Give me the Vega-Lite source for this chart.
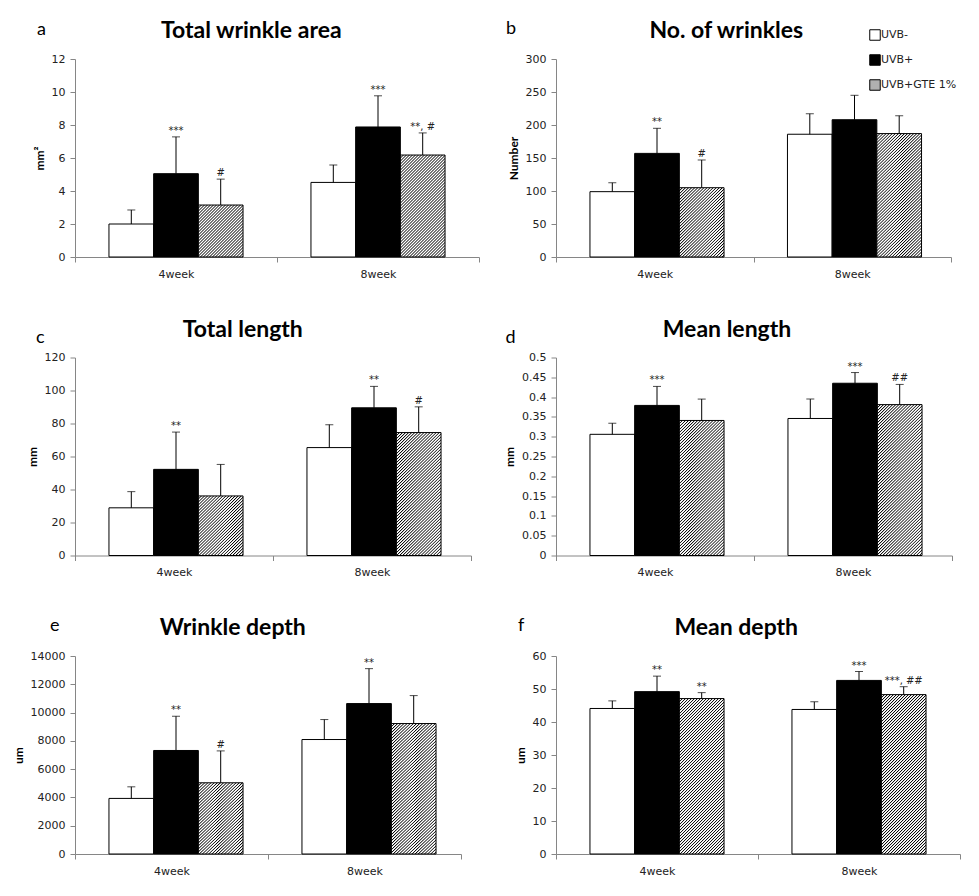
{
  "$schema": "https://vega.github.io/schema/vega-lite/v6.json",
  "background": "#ffffff",
  "padding": {"left": 12, "top": 20, "right": 5, "bottom": 5},
  "columns": 2,
  "spacing": {"row": 39.5, "column": 23},
  "params": [
    {"name": "hatchStops", "value": [
      {"offset": 0, "color": "#000"}, {"offset": 0.005, "color": "#fff"}, {"offset": 0.00875, "color": "#fff"},
      {"offset": 0.0125, "color": "#000"}, {"offset": 0.0175, "color": "#fff"}, {"offset": 0.02125, "color": "#fff"},
      {"offset": 0.025, "color": "#000"}, {"offset": 0.03, "color": "#fff"}, {"offset": 0.03375, "color": "#fff"},
      {"offset": 0.0375, "color": "#000"}, {"offset": 0.0425, "color": "#fff"}, {"offset": 0.04625, "color": "#fff"},
      {"offset": 0.05, "color": "#000"}, {"offset": 0.055, "color": "#fff"}, {"offset": 0.05875, "color": "#fff"},
      {"offset": 0.0625, "color": "#000"}, {"offset": 0.0675, "color": "#fff"}, {"offset": 0.07125, "color": "#fff"},
      {"offset": 0.075, "color": "#000"}, {"offset": 0.08, "color": "#fff"}, {"offset": 0.08375, "color": "#fff"},
      {"offset": 0.0875, "color": "#000"}, {"offset": 0.0925, "color": "#fff"}, {"offset": 0.09625, "color": "#fff"},
      {"offset": 0.1, "color": "#000"}, {"offset": 0.105, "color": "#fff"}, {"offset": 0.10875, "color": "#fff"},
      {"offset": 0.1125, "color": "#000"}, {"offset": 0.1175, "color": "#fff"}, {"offset": 0.12125, "color": "#fff"},
      {"offset": 0.125, "color": "#000"}, {"offset": 0.13, "color": "#fff"}, {"offset": 0.13375, "color": "#fff"},
      {"offset": 0.1375, "color": "#000"}, {"offset": 0.1425, "color": "#fff"}, {"offset": 0.14625, "color": "#fff"},
      {"offset": 0.15, "color": "#000"}, {"offset": 0.155, "color": "#fff"}, {"offset": 0.15875, "color": "#fff"},
      {"offset": 0.1625, "color": "#000"}, {"offset": 0.1675, "color": "#fff"}, {"offset": 0.17125, "color": "#fff"},
      {"offset": 0.175, "color": "#000"}, {"offset": 0.18, "color": "#fff"}, {"offset": 0.18375, "color": "#fff"},
      {"offset": 0.1875, "color": "#000"}, {"offset": 0.1925, "color": "#fff"}, {"offset": 0.19625, "color": "#fff"},
      {"offset": 0.2, "color": "#000"}, {"offset": 0.205, "color": "#fff"}, {"offset": 0.20875, "color": "#fff"},
      {"offset": 0.2125, "color": "#000"}, {"offset": 0.2175, "color": "#fff"}, {"offset": 0.22125, "color": "#fff"},
      {"offset": 0.225, "color": "#000"}, {"offset": 0.23, "color": "#fff"}, {"offset": 0.23375, "color": "#fff"},
      {"offset": 0.2375, "color": "#000"}, {"offset": 0.2425, "color": "#fff"}, {"offset": 0.24625, "color": "#fff"},
      {"offset": 0.25, "color": "#000"}, {"offset": 0.255, "color": "#fff"}, {"offset": 0.25875, "color": "#fff"},
      {"offset": 0.2625, "color": "#000"}, {"offset": 0.2675, "color": "#fff"}, {"offset": 0.27125, "color": "#fff"},
      {"offset": 0.275, "color": "#000"}, {"offset": 0.28, "color": "#fff"}, {"offset": 0.28375, "color": "#fff"},
      {"offset": 0.2875, "color": "#000"}, {"offset": 0.2925, "color": "#fff"}, {"offset": 0.29625, "color": "#fff"},
      {"offset": 0.3, "color": "#000"}, {"offset": 0.305, "color": "#fff"}, {"offset": 0.30875, "color": "#fff"},
      {"offset": 0.3125, "color": "#000"}, {"offset": 0.3175, "color": "#fff"}, {"offset": 0.32125, "color": "#fff"},
      {"offset": 0.325, "color": "#000"}, {"offset": 0.33, "color": "#fff"}, {"offset": 0.33375, "color": "#fff"},
      {"offset": 0.3375, "color": "#000"}, {"offset": 0.3425, "color": "#fff"}, {"offset": 0.34625, "color": "#fff"},
      {"offset": 0.35, "color": "#000"}, {"offset": 0.355, "color": "#fff"}, {"offset": 0.35875, "color": "#fff"},
      {"offset": 0.3625, "color": "#000"}, {"offset": 0.3675, "color": "#fff"}, {"offset": 0.37125, "color": "#fff"},
      {"offset": 0.375, "color": "#000"}, {"offset": 0.38, "color": "#fff"}, {"offset": 0.38375, "color": "#fff"},
      {"offset": 0.3875, "color": "#000"}, {"offset": 0.3925, "color": "#fff"}, {"offset": 0.39625, "color": "#fff"},
      {"offset": 0.4, "color": "#000"}, {"offset": 0.405, "color": "#fff"}, {"offset": 0.40875, "color": "#fff"},
      {"offset": 0.4125, "color": "#000"}, {"offset": 0.4175, "color": "#fff"}, {"offset": 0.42125, "color": "#fff"},
      {"offset": 0.425, "color": "#000"}, {"offset": 0.43, "color": "#fff"}, {"offset": 0.43375, "color": "#fff"},
      {"offset": 0.4375, "color": "#000"}, {"offset": 0.4425, "color": "#fff"}, {"offset": 0.44625, "color": "#fff"},
      {"offset": 0.45, "color": "#000"}, {"offset": 0.455, "color": "#fff"}, {"offset": 0.45875, "color": "#fff"},
      {"offset": 0.4625, "color": "#000"}, {"offset": 0.4675, "color": "#fff"}, {"offset": 0.47125, "color": "#fff"},
      {"offset": 0.475, "color": "#000"}, {"offset": 0.48, "color": "#fff"}, {"offset": 0.48375, "color": "#fff"},
      {"offset": 0.4875, "color": "#000"}, {"offset": 0.4925, "color": "#fff"}, {"offset": 0.49625, "color": "#fff"},
      {"offset": 0.5, "color": "#000"}, {"offset": 0.505, "color": "#fff"}, {"offset": 0.50875, "color": "#fff"},
      {"offset": 0.5125, "color": "#000"}, {"offset": 0.5175, "color": "#fff"}, {"offset": 0.52125, "color": "#fff"},
      {"offset": 0.525, "color": "#000"}, {"offset": 0.53, "color": "#fff"}, {"offset": 0.53375, "color": "#fff"},
      {"offset": 0.5375, "color": "#000"}, {"offset": 0.5425, "color": "#fff"}, {"offset": 0.54625, "color": "#fff"},
      {"offset": 0.55, "color": "#000"}, {"offset": 0.555, "color": "#fff"}, {"offset": 0.55875, "color": "#fff"},
      {"offset": 0.5625, "color": "#000"}, {"offset": 0.5675, "color": "#fff"}, {"offset": 0.57125, "color": "#fff"},
      {"offset": 0.575, "color": "#000"}, {"offset": 0.58, "color": "#fff"}, {"offset": 0.58375, "color": "#fff"},
      {"offset": 0.5875, "color": "#000"}, {"offset": 0.5925, "color": "#fff"}, {"offset": 0.59625, "color": "#fff"},
      {"offset": 0.6, "color": "#000"}, {"offset": 0.605, "color": "#fff"}, {"offset": 0.60875, "color": "#fff"},
      {"offset": 0.6125, "color": "#000"}, {"offset": 0.6175, "color": "#fff"}, {"offset": 0.62125, "color": "#fff"},
      {"offset": 0.625, "color": "#000"}, {"offset": 0.63, "color": "#fff"}, {"offset": 0.63375, "color": "#fff"},
      {"offset": 0.6375, "color": "#000"}, {"offset": 0.6425, "color": "#fff"}, {"offset": 0.64625, "color": "#fff"},
      {"offset": 0.65, "color": "#000"}, {"offset": 0.655, "color": "#fff"}, {"offset": 0.65875, "color": "#fff"},
      {"offset": 0.6625, "color": "#000"}, {"offset": 0.6675, "color": "#fff"}, {"offset": 0.67125, "color": "#fff"},
      {"offset": 0.675, "color": "#000"}, {"offset": 0.68, "color": "#fff"}, {"offset": 0.68375, "color": "#fff"},
      {"offset": 0.6875, "color": "#000"}, {"offset": 0.6925, "color": "#fff"}, {"offset": 0.69625, "color": "#fff"},
      {"offset": 0.7, "color": "#000"}, {"offset": 0.705, "color": "#fff"}, {"offset": 0.70875, "color": "#fff"},
      {"offset": 0.7125, "color": "#000"}, {"offset": 0.7175, "color": "#fff"}, {"offset": 0.72125, "color": "#fff"},
      {"offset": 0.725, "color": "#000"}, {"offset": 0.73, "color": "#fff"}, {"offset": 0.73375, "color": "#fff"},
      {"offset": 0.7375, "color": "#000"}, {"offset": 0.7425, "color": "#fff"}, {"offset": 0.74625, "color": "#fff"},
      {"offset": 0.75, "color": "#000"}, {"offset": 0.755, "color": "#fff"}, {"offset": 0.75875, "color": "#fff"},
      {"offset": 0.7625, "color": "#000"}, {"offset": 0.7675, "color": "#fff"}, {"offset": 0.77125, "color": "#fff"},
      {"offset": 0.775, "color": "#000"}, {"offset": 0.78, "color": "#fff"}, {"offset": 0.78375, "color": "#fff"},
      {"offset": 0.7875, "color": "#000"}, {"offset": 0.7925, "color": "#fff"}, {"offset": 0.79625, "color": "#fff"},
      {"offset": 0.8, "color": "#000"}, {"offset": 0.805, "color": "#fff"}, {"offset": 0.80875, "color": "#fff"},
      {"offset": 0.8125, "color": "#000"}, {"offset": 0.8175, "color": "#fff"}, {"offset": 0.82125, "color": "#fff"},
      {"offset": 0.825, "color": "#000"}, {"offset": 0.83, "color": "#fff"}, {"offset": 0.83375, "color": "#fff"},
      {"offset": 0.8375, "color": "#000"}, {"offset": 0.8425, "color": "#fff"}, {"offset": 0.84625, "color": "#fff"},
      {"offset": 0.85, "color": "#000"}, {"offset": 0.855, "color": "#fff"}, {"offset": 0.85875, "color": "#fff"},
      {"offset": 0.8625, "color": "#000"}, {"offset": 0.8675, "color": "#fff"}, {"offset": 0.87125, "color": "#fff"},
      {"offset": 0.875, "color": "#000"}, {"offset": 0.88, "color": "#fff"}, {"offset": 0.88375, "color": "#fff"},
      {"offset": 0.8875, "color": "#000"}, {"offset": 0.8925, "color": "#fff"}, {"offset": 0.89625, "color": "#fff"},
      {"offset": 0.9, "color": "#000"}, {"offset": 0.905, "color": "#fff"}, {"offset": 0.90875, "color": "#fff"},
      {"offset": 0.9125, "color": "#000"}, {"offset": 0.9175, "color": "#fff"}, {"offset": 0.92125, "color": "#fff"},
      {"offset": 0.925, "color": "#000"}, {"offset": 0.93, "color": "#fff"}, {"offset": 0.93375, "color": "#fff"},
      {"offset": 0.9375, "color": "#000"}, {"offset": 0.9425, "color": "#fff"}, {"offset": 0.94625, "color": "#fff"},
      {"offset": 0.95, "color": "#000"}, {"offset": 0.955, "color": "#fff"}, {"offset": 0.95875, "color": "#fff"},
      {"offset": 0.9625, "color": "#000"}, {"offset": 0.9675, "color": "#fff"}, {"offset": 0.97125, "color": "#fff"},
      {"offset": 0.975, "color": "#000"}, {"offset": 0.98, "color": "#fff"}, {"offset": 0.98375, "color": "#fff"},
      {"offset": 0.9875, "color": "#000"}, {"offset": 0.9925, "color": "#fff"}, {"offset": 1, "color": "#fff"}
    ]},
    {"name": "hatchLegend", "expr": "{gradient: 'linear', x1: 0, y1: 0, x2: 19, y2: 19, stops: hatchStops}"}
  ],
  "datasets": {
    "a": [
      {"week": "4week", "group": "UVB-", "mean": 2.0, "upper": 2.85, "label": ""},
      {"week": "4week", "group": "UVB+", "mean": 5.05, "upper": 7.28, "label": "***"},
      {"week": "4week", "group": "UVB+GTE 1%", "mean": 3.15, "upper": 4.72, "label": "#"},
      {"week": "8week", "group": "UVB-", "mean": 4.52, "upper": 5.58, "label": ""},
      {"week": "8week", "group": "UVB+", "mean": 7.88, "upper": 9.77, "label": "***"},
      {"week": "8week", "group": "UVB+GTE 1%", "mean": 6.18, "upper": 7.52, "label": "**, #"}
    ],
    "b": [
      {"week": "4week", "group": "UVB-", "mean": 99, "upper": 112.5, "label": ""},
      {"week": "4week", "group": "UVB+", "mean": 157, "upper": 195, "label": "**"},
      {"week": "4week", "group": "UVB+GTE 1%", "mean": 105, "upper": 147, "label": "#"},
      {"week": "8week", "group": "UVB-", "mean": 186, "upper": 217, "label": ""},
      {"week": "8week", "group": "UVB+", "mean": 208, "upper": 245, "label": ""},
      {"week": "8week", "group": "UVB+GTE 1%", "mean": 187, "upper": 214, "label": ""}
    ],
    "c": [
      {"week": "4week", "group": "UVB-", "mean": 28.9, "upper": 38.7, "label": ""},
      {"week": "4week", "group": "UVB+", "mean": 52.2, "upper": 74.8, "label": "**"},
      {"week": "4week", "group": "UVB+GTE 1%", "mean": 36.1, "upper": 55.2, "label": ""},
      {"week": "8week", "group": "UVB-", "mean": 65.4, "upper": 79.3, "label": ""},
      {"week": "8week", "group": "UVB+", "mean": 89.5, "upper": 102.5, "label": "**"},
      {"week": "8week", "group": "UVB+GTE 1%", "mean": 74.5, "upper": 90.1, "label": "#"}
    ],
    "d": [
      {"week": "4week", "group": "UVB-", "mean": 0.306, "upper": 0.334, "label": ""},
      {"week": "4week", "group": "UVB+", "mean": 0.379, "upper": 0.427, "label": "***"},
      {"week": "4week", "group": "UVB+GTE 1%", "mean": 0.341, "upper": 0.395, "label": ""},
      {"week": "8week", "group": "UVB-", "mean": 0.346, "upper": 0.395, "label": ""},
      {"week": "8week", "group": "UVB+", "mean": 0.435, "upper": 0.462, "label": "***"},
      {"week": "8week", "group": "UVB+GTE 1%", "mean": 0.381, "upper": 0.432, "label": "##"}
    ],
    "e": [
      {"week": "4week", "group": "UVB-", "mean": 3930, "upper": 4750, "label": ""},
      {"week": "4week", "group": "UVB+", "mean": 7320, "upper": 9740, "label": "**"},
      {"week": "4week", "group": "UVB+GTE 1%", "mean": 5035, "upper": 7290, "label": "#"},
      {"week": "8week", "group": "UVB-", "mean": 8094, "upper": 9506, "label": ""},
      {"week": "8week", "group": "UVB+", "mean": 10635, "upper": 13106, "label": "**"},
      {"week": "8week", "group": "UVB+GTE 1%", "mean": 9224, "upper": 11200, "label": ""}
    ],
    "f": [
      {"week": "4week", "group": "UVB-", "mean": 44.1, "upper": 46.4, "label": ""},
      {"week": "4week", "group": "UVB+", "mean": 49.2, "upper": 53.9, "label": "**"},
      {"week": "4week", "group": "UVB+GTE 1%", "mean": 47.1, "upper": 48.9, "label": "**"},
      {"week": "8week", "group": "UVB-", "mean": 43.8, "upper": 46.1, "label": ""},
      {"week": "8week", "group": "UVB+", "mean": 52.6, "upper": 55.3, "label": "***"},
      {"week": "8week", "group": "UVB+GTE 1%", "mean": 48.3, "upper": 50.7, "label": "***, ##"}
    ]
  },
  "concat": [
    {
      "title": {"text": "a", "anchor": "start", "font": "Lato", "fontSize": 18, "fontWeight": "normal", "offset": 0, "dx": 4, "dy": 19},
      "vconcat": [{
        "width": 404, "height": 198,
        "data": {"name": "a"},
        "title": {"text": "Total wrinkle area", "dx": -5},
        "encoding": {
          "x": {"field": "week", "type": "nominal", "title": null, "scale": {"paddingInner": 0, "paddingOuter": 0}, "axis": {"labelAngle": 0, "tickBand": "extent"}},
          "xOffset": {"field": "group", "type": "nominal", "scale": {"domain": ["UVB-", "UVB+", "UVB+GTE 1%"], "paddingInner": 0, "paddingOuter": 0.76}}
        },
        "layer": [
          {"mark": {"type": "bar", "stroke": "#000", "strokeWidth": 1},
           "encoding": {
             "y": {"field": "mean", "type": "quantitative", "title": "mm²", "scale": {"domain": [0, 12], "nice": false}, "axis": {"values": [0, 2, 4, 6, 8, 10, 12], "format": "d"}},
             "fill": {"condition": {"test": "datum.group === 'UVB+GTE 1%'", "value": {"expr": "{gradient: 'linear', x1: 0, y1: 0, x2: 240*44.69/(1997 + pow(datum.mean*16.5, 2)), y2: 240*datum.mean*16.5/(1997 + pow(datum.mean*16.5, 2)), stops: hatchStops}"}}, "field": "group", "type": "nominal", "scale": {"domain": ["UVB-", "UVB+", "UVB+GTE 1%"], "range": ["#ffffff", "#000000", "#b0b0b0"]}, "legend": {"title": null, "orient": "none", "legendX": 794, "legendY": -30, "direction": "vertical", "symbolType": "square", "symbolSize": 110, "symbolStrokeColor": "#000", "symbolStrokeWidth": 1, "labelFont": "DejaVu Sans", "labelFontSize": 11, "labelColor": "#222", "labelOffset": 0, "rowPadding": 9, "padding": 0, "encode": {"symbols": {"update": {"fill": {"signal": "datum.value === 'UVB+GTE 1%' ? hatchLegend : scale('fill', datum.value)"}, "stroke": {"value": "#000"}, "strokeWidth": {"value": 1}}}}}}
           }},
          {"mark": {"type": "rule", "color": "#000", "strokeWidth": 1}, "encoding": {"y": {"field": "mean", "type": "quantitative", "title": "mm²", "axis": {"values": [0, 2, 4, 6, 8, 10, 12], "format": "d"}}, "y2": {"field": "upper"}}},
          {"mark": {"type": "tick", "orient": "horizontal", "color": "#000", "thickness": 1, "size": 8}, "encoding": {"y": {"field": "upper", "type": "quantitative", "title": "mm²", "axis": {"values": [0, 2, 4, 6, 8, 10, 12], "format": "d"}}}},
          {"mark": {"type": "text", "font": "DejaVu Sans", "fontSize": 10, "color": "#222", "baseline": "alphabetic", "dy": -3}, "encoding": {"y": {"field": "upper", "type": "quantitative", "title": "mm²", "axis": {"values": [0, 2, 4, 6, 8, 10, 12], "format": "d"}}, "text": {"field": "label"}}}
        ]
      }]
    },
    {
      "title": {"text": "b", "anchor": "start", "font": "Lato", "fontSize": 18, "fontWeight": "normal", "offset": 0, "dx": -1, "dy": 18},
      "vconcat": [{
        "width": 395, "height": 198,
        "data": {"name": "b"},
        "title": {"text": "No. of wrinkles", "dx": -3},
        "encoding": {
          "x": {"field": "week", "type": "nominal", "title": null, "scale": {"paddingInner": 0, "paddingOuter": 0}, "axis": {"labelAngle": 0, "tickBand": "extent"}},
          "xOffset": {"field": "group", "type": "nominal", "scale": {"domain": ["UVB-", "UVB+", "UVB+GTE 1%"], "paddingInner": 0, "paddingOuter": 0.76}}
        },
        "layer": [
          {"mark": {"type": "bar", "stroke": "#000", "strokeWidth": 1},
           "encoding": {
             "y": {"field": "mean", "type": "quantitative", "title": "Number", "scale": {"domain": [0, 300], "nice": false}, "axis": {"values": [0, 50, 100, 150, 200, 250, 300], "format": "d"}},
             "fill": {"condition": {"test": "datum.group === 'UVB+GTE 1%'", "value": {"expr": "{gradient: 'linear', x1: 0, y1: 0, x2: 240*43.69/(1909 + pow(datum.mean*0.66, 2)), y2: 240*datum.mean*0.66/(1909 + pow(datum.mean*0.66, 2)), stops: hatchStops}"}}, "field": "group", "type": "nominal", "scale": {"domain": ["UVB-", "UVB+", "UVB+GTE 1%"], "range": ["#ffffff", "#000000", "#b0b0b0"]}, "legend": {"title": null, "orient": "none", "legendX": 794, "legendY": -30, "direction": "vertical", "symbolType": "square", "symbolSize": 110, "symbolStrokeColor": "#000", "symbolStrokeWidth": 1, "labelFont": "DejaVu Sans", "labelFontSize": 11, "labelColor": "#222", "labelOffset": 0, "rowPadding": 9, "padding": 0, "encode": {"symbols": {"update": {"fill": {"signal": "datum.value === 'UVB+GTE 1%' ? hatchLegend : scale('fill', datum.value)"}, "stroke": {"value": "#000"}, "strokeWidth": {"value": 1}}}}}}
           }},
          {"mark": {"type": "rule", "color": "#000", "strokeWidth": 1}, "encoding": {"y": {"field": "mean", "type": "quantitative", "title": "Number", "axis": {"values": [0, 50, 100, 150, 200, 250, 300], "format": "d"}}, "y2": {"field": "upper"}}},
          {"mark": {"type": "tick", "orient": "horizontal", "color": "#000", "thickness": 1, "size": 8}, "encoding": {"y": {"field": "upper", "type": "quantitative", "title": "Number", "axis": {"values": [0, 50, 100, 150, 200, 250, 300], "format": "d"}}}},
          {"mark": {"type": "text", "font": "DejaVu Sans", "fontSize": 10, "color": "#222", "baseline": "alphabetic", "dy": -3}, "encoding": {"y": {"field": "upper", "type": "quantitative", "title": "Number", "axis": {"values": [0, 50, 100, 150, 200, 250, 300], "format": "d"}}, "text": {"field": "label"}}}
        ]
      }]
    },
    {
      "title": {"text": "c", "anchor": "start", "font": "Lato", "fontSize": 18, "fontWeight": "normal", "offset": 0, "dx": 10, "dy": 28},
      "vconcat": [{
        "width": 396, "height": 198,
        "data": {"name": "c"},
        "title": {"text": "Total length", "dx": -6},
        "encoding": {
          "x": {"field": "week", "type": "nominal", "title": null, "scale": {"paddingInner": 0, "paddingOuter": 0}, "axis": {"labelAngle": 0, "tickBand": "extent"}},
          "xOffset": {"field": "group", "type": "nominal", "scale": {"domain": ["UVB-", "UVB+", "UVB+GTE 1%"], "paddingInner": 0, "paddingOuter": 0.76}}
        },
        "layer": [
          {"mark": {"type": "bar", "stroke": "#000", "strokeWidth": 1},
           "encoding": {
             "y": {"field": "mean", "type": "quantitative", "title": "mm", "scale": {"domain": [0, 120], "nice": false}, "axis": {"values": [0, 20, 40, 60, 80, 100, 120], "format": "d"}},
             "fill": {"condition": {"test": "datum.group === 'UVB+GTE 1%'", "value": {"expr": "{gradient: 'linear', x1: 0, y1: 0, x2: 240*43.81/(1919 + pow(datum.mean*1.65, 2)), y2: 240*datum.mean*1.65/(1919 + pow(datum.mean*1.65, 2)), stops: hatchStops}"}}, "field": "group", "type": "nominal", "scale": {"domain": ["UVB-", "UVB+", "UVB+GTE 1%"], "range": ["#ffffff", "#000000", "#b0b0b0"]}, "legend": {"title": null, "orient": "none", "legendX": 794, "legendY": -30, "direction": "vertical", "symbolType": "square", "symbolSize": 110, "symbolStrokeColor": "#000", "symbolStrokeWidth": 1, "labelFont": "DejaVu Sans", "labelFontSize": 11, "labelColor": "#222", "labelOffset": 0, "rowPadding": 9, "padding": 0, "encode": {"symbols": {"update": {"fill": {"signal": "datum.value === 'UVB+GTE 1%' ? hatchLegend : scale('fill', datum.value)"}, "stroke": {"value": "#000"}, "strokeWidth": {"value": 1}}}}}}
           }},
          {"mark": {"type": "rule", "color": "#000", "strokeWidth": 1}, "encoding": {"y": {"field": "mean", "type": "quantitative", "title": "mm", "axis": {"values": [0, 20, 40, 60, 80, 100, 120], "format": "d"}}, "y2": {"field": "upper"}}},
          {"mark": {"type": "tick", "orient": "horizontal", "color": "#000", "thickness": 1, "size": 8}, "encoding": {"y": {"field": "upper", "type": "quantitative", "title": "mm", "axis": {"values": [0, 20, 40, 60, 80, 100, 120], "format": "d"}}}},
          {"mark": {"type": "text", "font": "DejaVu Sans", "fontSize": 10, "color": "#222", "baseline": "alphabetic", "dy": -3}, "encoding": {"y": {"field": "upper", "type": "quantitative", "title": "mm", "axis": {"values": [0, 20, 40, 60, 80, 100, 120], "format": "d"}}, "text": {"field": "label"}}}
        ]
      }]
    },
    {
      "title": {"text": "d", "anchor": "start", "font": "Lato", "fontSize": 18, "fontWeight": "normal", "offset": 0, "dx": 2, "dy": 28},
      "vconcat": [{
        "width": 396, "height": 198,
        "data": {"name": "d"},
        "title": {"text": "Mean length", "dx": -1},
        "encoding": {
          "x": {"field": "week", "type": "nominal", "title": null, "scale": {"paddingInner": 0, "paddingOuter": 0}, "axis": {"labelAngle": 0, "tickBand": "extent"}},
          "xOffset": {"field": "group", "type": "nominal", "scale": {"domain": ["UVB-", "UVB+", "UVB+GTE 1%"], "paddingInner": 0, "paddingOuter": 0.76}}
        },
        "layer": [
          {"mark": {"type": "bar", "stroke": "#000", "strokeWidth": 1},
           "encoding": {
             "y": {"field": "mean", "type": "quantitative", "title": "mm", "scale": {"domain": [0, 0.5], "nice": false}, "axis": {"values": [0, 0.05, 0.1, 0.15, 0.2, 0.25, 0.3, 0.35, 0.4, 0.45, 0.5], "format": ".2~f"}},
             "fill": {"condition": {"test": "datum.group === 'UVB+GTE 1%'", "value": {"expr": "{gradient: 'linear', x1: 0, y1: 0, x2: 240*43.81/(1919 + pow(datum.mean*396, 2)), y2: 240*datum.mean*396/(1919 + pow(datum.mean*396, 2)), stops: hatchStops}"}}, "field": "group", "type": "nominal", "scale": {"domain": ["UVB-", "UVB+", "UVB+GTE 1%"], "range": ["#ffffff", "#000000", "#b0b0b0"]}, "legend": {"title": null, "orient": "none", "legendX": 794, "legendY": -30, "direction": "vertical", "symbolType": "square", "symbolSize": 110, "symbolStrokeColor": "#000", "symbolStrokeWidth": 1, "labelFont": "DejaVu Sans", "labelFontSize": 11, "labelColor": "#222", "labelOffset": 0, "rowPadding": 9, "padding": 0, "encode": {"symbols": {"update": {"fill": {"signal": "datum.value === 'UVB+GTE 1%' ? hatchLegend : scale('fill', datum.value)"}, "stroke": {"value": "#000"}, "strokeWidth": {"value": 1}}}}}}
           }},
          {"mark": {"type": "rule", "color": "#000", "strokeWidth": 1}, "encoding": {"y": {"field": "mean", "type": "quantitative", "title": "mm", "axis": {"values": [0, 0.05, 0.1, 0.15, 0.2, 0.25, 0.3, 0.35, 0.4, 0.45, 0.5], "format": ".2~f"}}, "y2": {"field": "upper"}}},
          {"mark": {"type": "tick", "orient": "horizontal", "color": "#000", "thickness": 1, "size": 8}, "encoding": {"y": {"field": "upper", "type": "quantitative", "title": "mm", "axis": {"values": [0, 0.05, 0.1, 0.15, 0.2, 0.25, 0.3, 0.35, 0.4, 0.45, 0.5], "format": ".2~f"}}}},
          {"mark": {"type": "text", "font": "DejaVu Sans", "fontSize": 10, "color": "#222", "baseline": "alphabetic", "dy": -3}, "encoding": {"y": {"field": "upper", "type": "quantitative", "title": "mm", "axis": {"values": [0, 0.05, 0.1, 0.15, 0.2, 0.25, 0.3, 0.35, 0.4, 0.45, 0.5], "format": ".2~f"}}, "text": {"field": "label"}}}
        ]
      }]
    },
    {
      "title": {"text": "e", "anchor": "start", "font": "Lato", "fontSize": 18, "fontWeight": "normal", "offset": 0, "dx": 38, "dy": 18},
      "vconcat": [{
        "width": 386, "height": 198,
        "data": {"name": "e"},
        "title": {"text": "Wrinkle depth", "dx": -4},
        "encoding": {
          "x": {"field": "week", "type": "nominal", "title": null, "scale": {"paddingInner": 0, "paddingOuter": 0}, "axis": {"labelAngle": 0, "tickBand": "extent"}},
          "xOffset": {"field": "group", "type": "nominal", "scale": {"domain": ["UVB-", "UVB+", "UVB+GTE 1%"], "paddingInner": 0, "paddingOuter": 0.76}}
        },
        "layer": [
          {"mark": {"type": "bar", "stroke": "#000", "strokeWidth": 1},
           "encoding": {
             "y": {"field": "mean", "type": "quantitative", "title": "um", "scale": {"domain": [0, 14000], "nice": false}, "axis": {"values": [0, 2000, 4000, 6000, 8000, 10000, 12000, 14000], "format": "d"}},
             "fill": {"condition": {"test": "datum.group === 'UVB+GTE 1%'", "value": {"expr": "{gradient: 'linear', x1: 0, y1: 0, x2: 240*42.7/(1823 + pow(datum.mean*0.014143, 2)), y2: 240*datum.mean*0.014143/(1823 + pow(datum.mean*0.014143, 2)), stops: hatchStops}"}}, "field": "group", "type": "nominal", "scale": {"domain": ["UVB-", "UVB+", "UVB+GTE 1%"], "range": ["#ffffff", "#000000", "#b0b0b0"]}, "legend": {"title": null, "orient": "none", "legendX": 794, "legendY": -30, "direction": "vertical", "symbolType": "square", "symbolSize": 110, "symbolStrokeColor": "#000", "symbolStrokeWidth": 1, "labelFont": "DejaVu Sans", "labelFontSize": 11, "labelColor": "#222", "labelOffset": 0, "rowPadding": 9, "padding": 0, "encode": {"symbols": {"update": {"fill": {"signal": "datum.value === 'UVB+GTE 1%' ? hatchLegend : scale('fill', datum.value)"}, "stroke": {"value": "#000"}, "strokeWidth": {"value": 1}}}}}}
           }},
          {"mark": {"type": "rule", "color": "#000", "strokeWidth": 1}, "encoding": {"y": {"field": "mean", "type": "quantitative", "title": "um", "axis": {"values": [0, 2000, 4000, 6000, 8000, 10000, 12000, 14000], "format": "d"}}, "y2": {"field": "upper"}}},
          {"mark": {"type": "tick", "orient": "horizontal", "color": "#000", "thickness": 1, "size": 8}, "encoding": {"y": {"field": "upper", "type": "quantitative", "title": "um", "axis": {"values": [0, 2000, 4000, 6000, 8000, 10000, 12000, 14000], "format": "d"}}}},
          {"mark": {"type": "text", "font": "DejaVu Sans", "fontSize": 10, "color": "#222", "baseline": "alphabetic", "dy": -3}, "encoding": {"y": {"field": "upper", "type": "quantitative", "title": "um", "axis": {"values": [0, 2000, 4000, 6000, 8000, 10000, 12000, 14000], "format": "d"}}, "text": {"field": "label"}}}
        ]
      }]
    },
    {
      "title": {"text": "f", "anchor": "start", "font": "Lato", "fontSize": 18, "fontWeight": "normal", "offset": 0, "dx": 4, "dy": 18},
      "vconcat": [{
        "width": 404, "height": 198,
        "data": {"name": "f"},
        "title": {"text": "Mean depth", "dx": -1},
        "encoding": {
          "x": {"field": "week", "type": "nominal", "title": null, "scale": {"paddingInner": 0, "paddingOuter": 0}, "axis": {"labelAngle": 0, "tickBand": "extent"}},
          "xOffset": {"field": "group", "type": "nominal", "scale": {"domain": ["UVB-", "UVB+", "UVB+GTE 1%"], "paddingInner": 0, "paddingOuter": 0.76}}
        },
        "layer": [
          {"mark": {"type": "bar", "stroke": "#000", "strokeWidth": 1},
           "encoding": {
             "y": {"field": "mean", "type": "quantitative", "title": "um", "scale": {"domain": [0, 60], "nice": false}, "axis": {"values": [0, 10, 20, 30, 40, 50, 60], "format": "d"}},
             "fill": {"condition": {"test": "datum.group === 'UVB+GTE 1%'", "value": {"expr": "{gradient: 'linear', x1: 0, y1: 0, x2: 240*44.69/(1997 + pow(datum.mean*3.3, 2)), y2: 240*datum.mean*3.3/(1997 + pow(datum.mean*3.3, 2)), stops: hatchStops}"}}, "field": "group", "type": "nominal", "scale": {"domain": ["UVB-", "UVB+", "UVB+GTE 1%"], "range": ["#ffffff", "#000000", "#b0b0b0"]}, "legend": {"title": null, "orient": "none", "legendX": 794, "legendY": -30, "direction": "vertical", "symbolType": "square", "symbolSize": 110, "symbolStrokeColor": "#000", "symbolStrokeWidth": 1, "labelFont": "DejaVu Sans", "labelFontSize": 11, "labelColor": "#222", "labelOffset": 0, "rowPadding": 9, "padding": 0, "encode": {"symbols": {"update": {"fill": {"signal": "datum.value === 'UVB+GTE 1%' ? hatchLegend : scale('fill', datum.value)"}, "stroke": {"value": "#000"}, "strokeWidth": {"value": 1}}}}}}
           }},
          {"mark": {"type": "rule", "color": "#000", "strokeWidth": 1}, "encoding": {"y": {"field": "mean", "type": "quantitative", "title": "um", "axis": {"values": [0, 10, 20, 30, 40, 50, 60], "format": "d"}}, "y2": {"field": "upper"}}},
          {"mark": {"type": "tick", "orient": "horizontal", "color": "#000", "thickness": 1, "size": 8}, "encoding": {"y": {"field": "upper", "type": "quantitative", "title": "um", "axis": {"values": [0, 10, 20, 30, 40, 50, 60], "format": "d"}}}},
          {"mark": {"type": "text", "font": "DejaVu Sans", "fontSize": 10, "color": "#222", "baseline": "alphabetic", "dy": -3}, "encoding": {"y": {"field": "upper", "type": "quantitative", "title": "um", "axis": {"values": [0, 10, 20, 30, 40, 50, 60], "format": "d"}}, "text": {"field": "label"}}}
        ]
      }]
    }
  ],
  "config": {
    "view": {"stroke": null},
    "axis": {"grid": false, "labelOverlap": false, "domainColor": "#868686", "tickColor": "#868686", "labelColor": "#222", "labelFont": "DejaVu Sans", "labelFontSize": 11, "tickSize": 5, "labelPadding": 5, "titleFont": "Lato", "titleFontSize": 12, "titleFontWeight": "bold", "titleColor": "#000", "titlePadding": 5},
    "axisX": {"labelPadding": 6},
    "title": {"font": "Lato", "fontSize": 23, "fontWeight": "bold", "color": "#000", "anchor": "middle", "frame": "bounds", "offset": 10}
  }
}
